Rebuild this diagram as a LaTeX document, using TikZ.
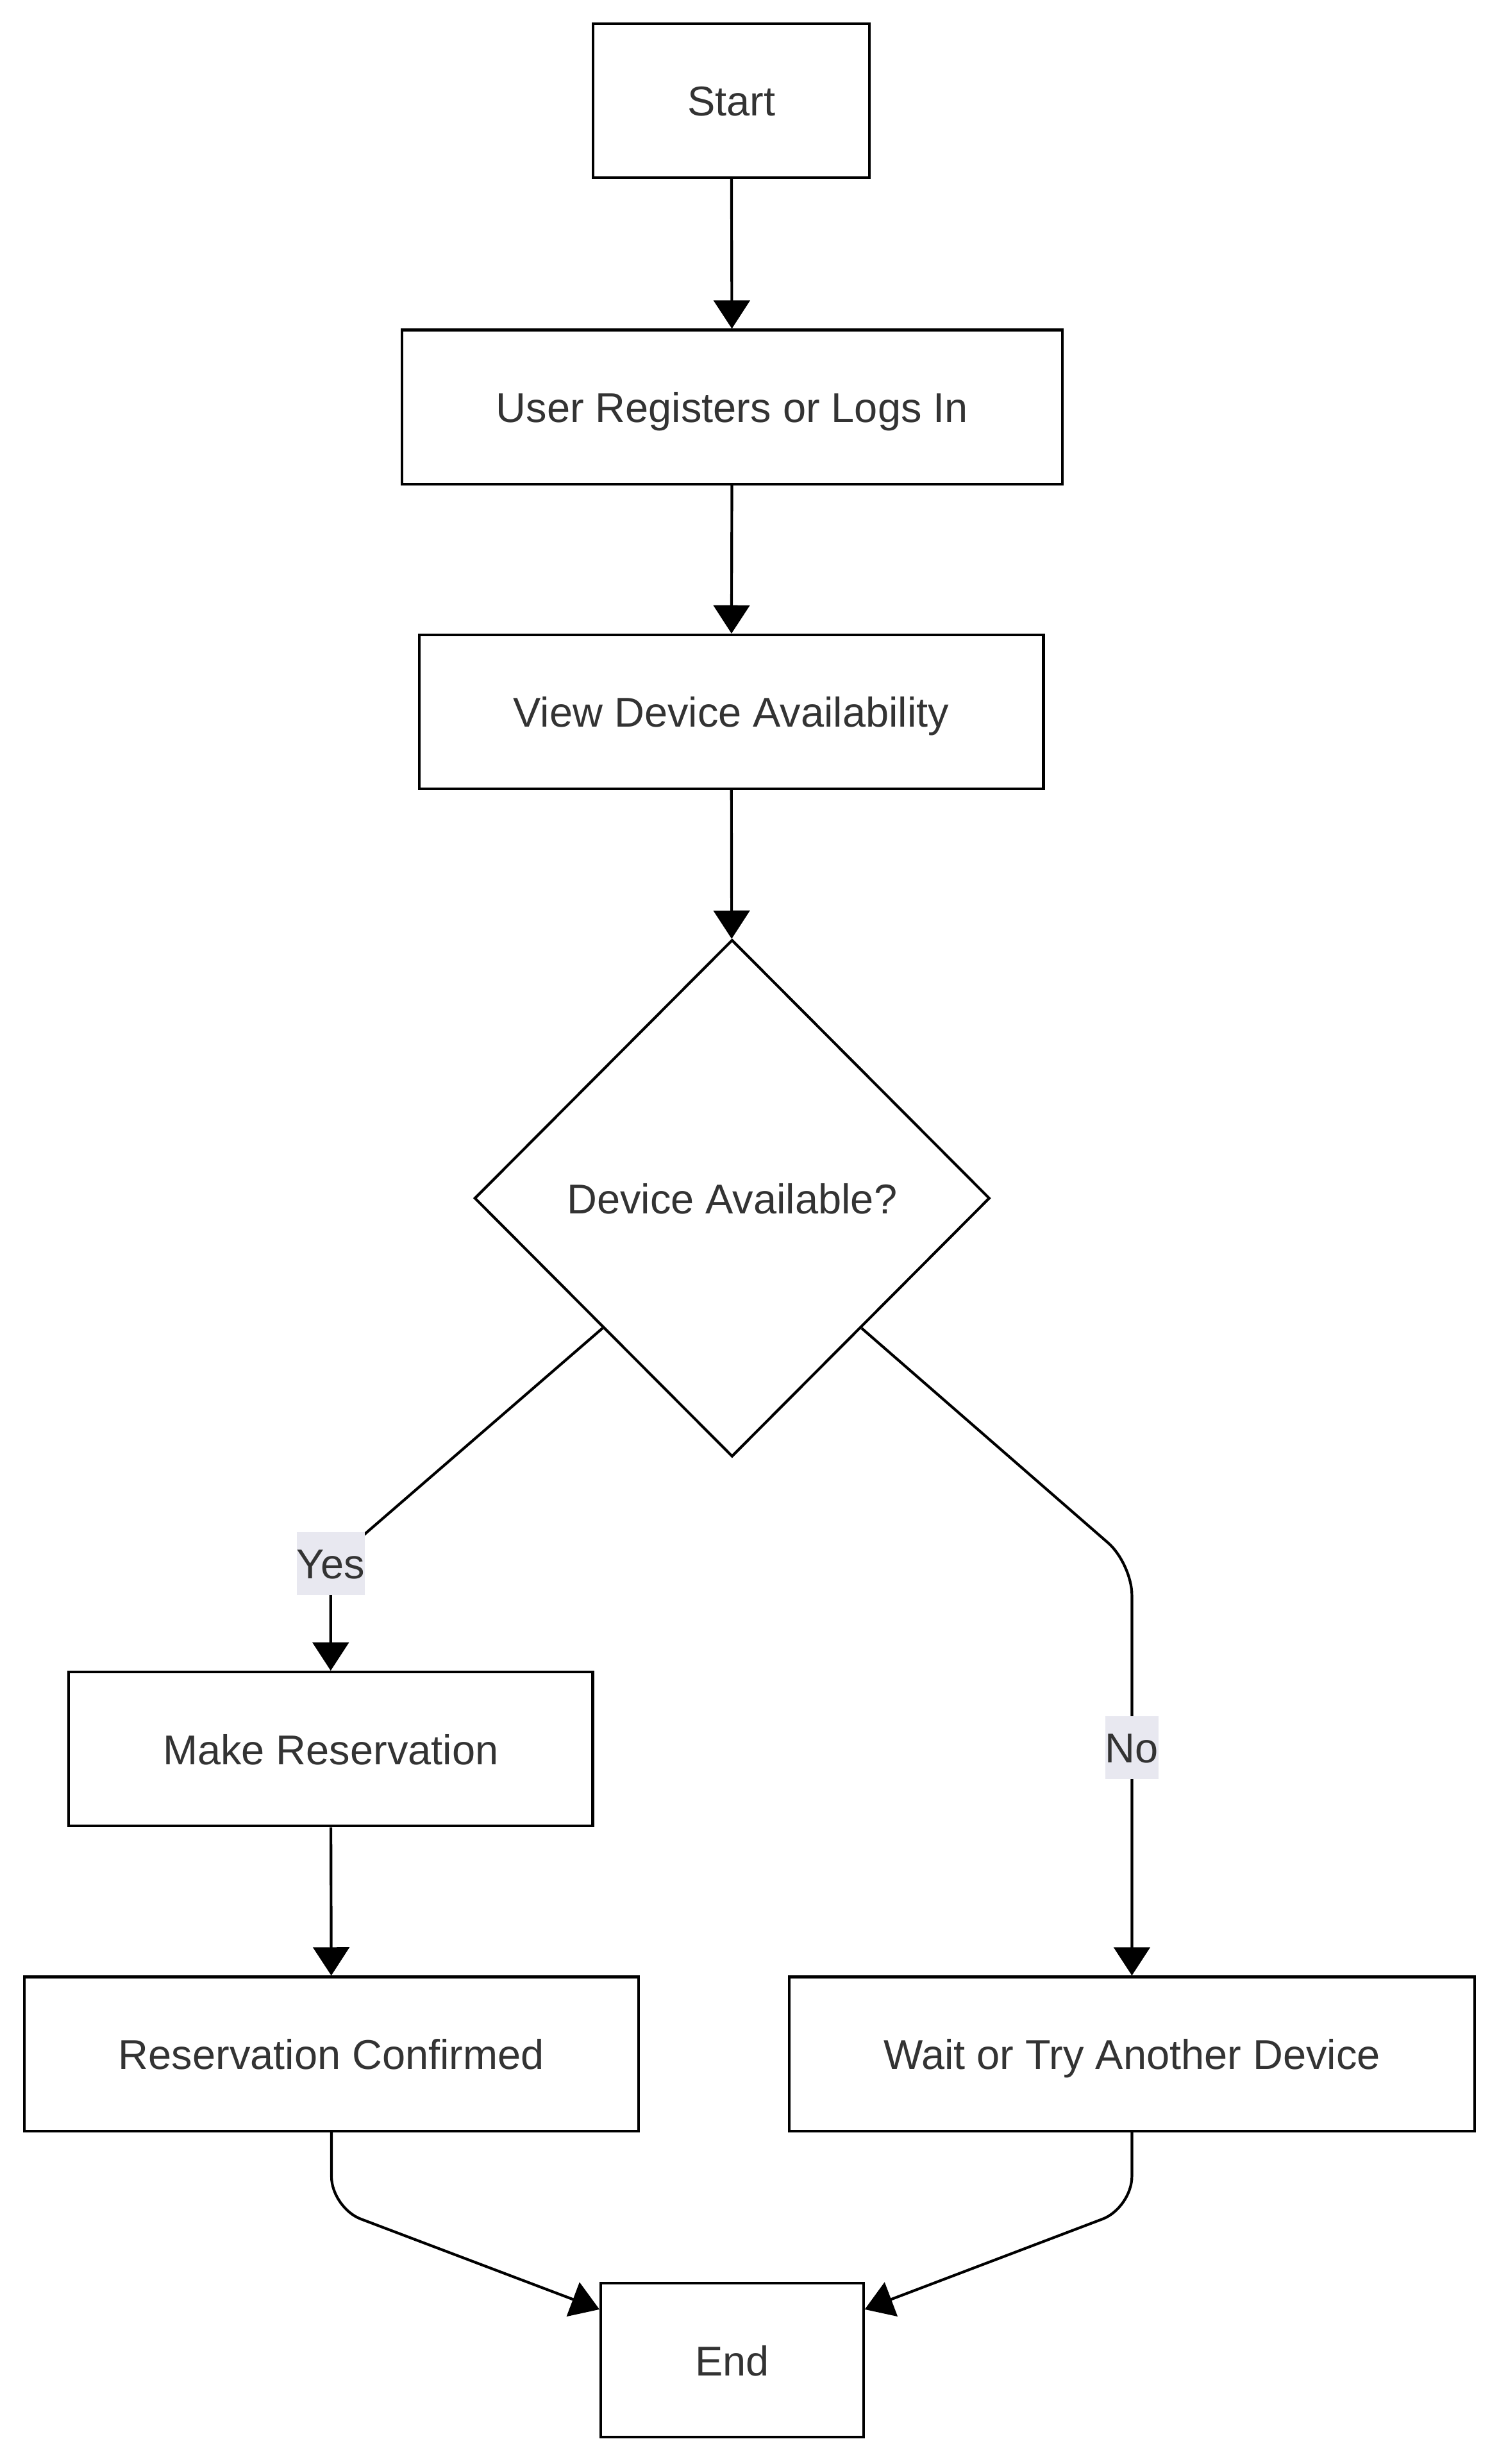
\documentclass[tikz,border=0pt]{standalone}
\usepackage{fontspec}
\setmainfont{Liberation Sans}
\usetikzlibrary{positioning,shapes.geometric,arrows.meta}
\definecolor{txtgray}{HTML}{333333}
\definecolor{lblbg}{HTML}{E8E8F0}
\newcommand{\flowfont}{\fontsize{26.5}{30}\selectfont}

\begin{document}
\begin{tikzpicture}[x=1pt,y=-1pt,
  box/.style={draw=black, line width=1.7pt, text=txtgray, minimum height=98pt, inner xsep=60pt, text height=19.5pt, text depth=0pt, font=\flowfont},
  decision/.style={diamond, draw=black, line width=1.7pt, text=txtgray, minimum width=328pt, minimum height=329pt, inner sep=0pt, text height=19.5pt, text depth=0pt, font=\flowfont},
  lbl/.style={fill=lblbg, text=txtgray, inner xsep=0pt, minimum height=40pt, text height=19.5pt, text depth=0pt, font=\flowfont},
  arr/.style={-{Triangle[length=18pt,width=23pt]}, line width=1.7pt, rounded corners=20pt}]
\useasboundingbox (0,0) rectangle (954,1568);
% steps
\node[box] (start) at (465.5,64) {Start};
\node[box] (login) at (466,259) {User Registers or Logs In};
\node[box] (view) at (465.5,453) {View Device Availability};
\node[decision] (avail) at (466,762.5) {Device Available?};
\node[box] (make) at (210.5,1113) {Make Reservation};
\node[box] (conf) at (211,1307) {Reservation Confirmed};
\node[box] (wait) at (720.5,1307) {Wait or Try Another Device};
\node[box] (end) at (466,1502) {End};
% bends
\coordinate (yesbend) at (210.5,995);
\coordinate (nobend) at (720.5,995);
\coordinate (cbend) at (211,1405);
\coordinate (wbend) at (720.5,1405);
% arrows
\draw[arr] (start) -- (login);
\draw[arr] (login) -- (view);
\draw[arr] (view) -- (avail);
\draw[arr] (avail.south west) -- (yesbend) -- (make.north);
\draw[arr] (avail.south east) -- (nobend) -- (wait.north);
\draw[arr] (make) -- (conf);
\draw[arr] (conf.south) -- (cbend) -- (end.159);
\draw[arr] (wait.south) -- (wbend) -- (end.21);
% labels
\node[lbl] (yes) at (yesbend) {Yes};
\node[lbl] (no) at (720.5,1112) {No};
\end{tikzpicture}
\end{document}
